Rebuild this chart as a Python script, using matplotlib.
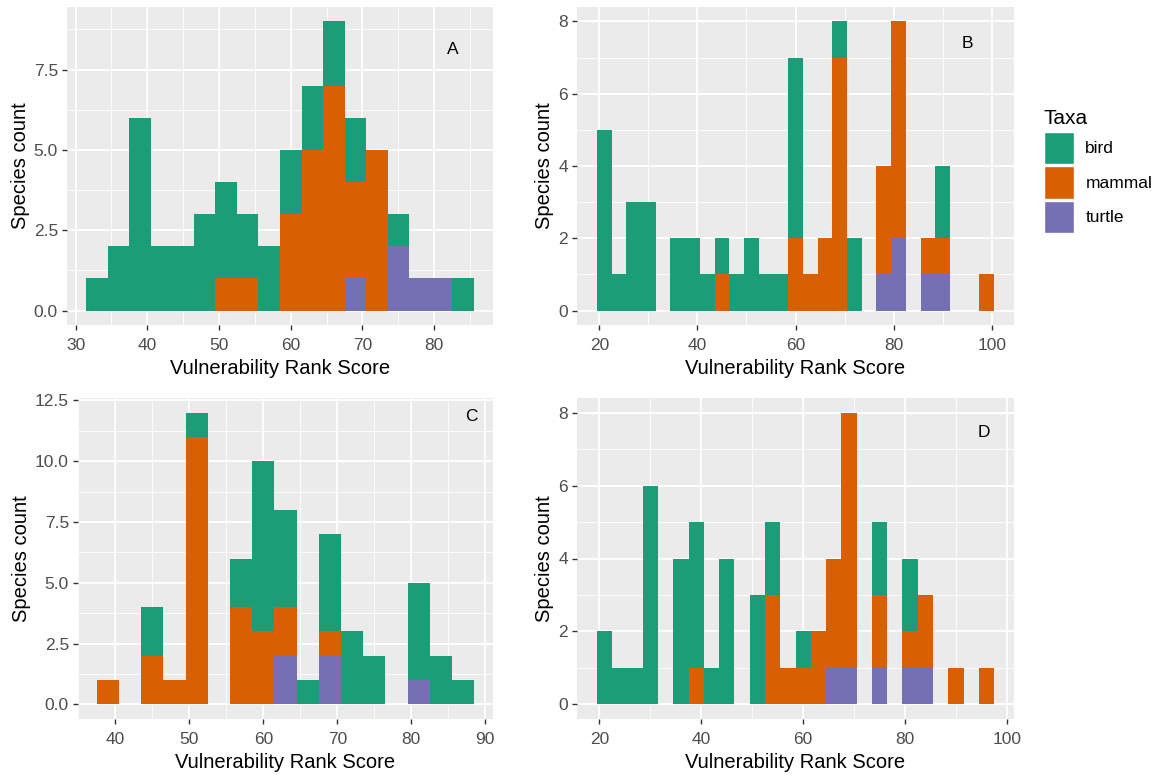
import numpy as np
import matplotlib
matplotlib.use("Agg")
import matplotlib.pyplot as plt
from matplotlib.patches import Patch
from matplotlib.ticker import MultipleLocator, FormatStrFormatter

plt.rcParams['font.family'] = ['Liberation Sans', 'DejaVu Sans']

# taxa and colours (Dark2)
taxa = ['bird', 'mammal', 'turtle']
taxa_colors = {'bird': '#1B9E77', 'mammal': '#D95F02', 'turtle': '#7570B3'}
bin_width = 3

# panel A
a_centers = [33, 36, 39, 42, 45, 48, 51, 54, 57, 60, 63, 66, 69, 72, 75, 78, 81, 84]
a_bird = [1, 2, 6, 2, 2, 3, 3, 2, 2, 2, 2, 2, 2, 0, 1, 0, 0, 1]
a_mammal = [0, 0, 0, 0, 0, 0, 1, 1, 0, 3, 5, 7, 3, 5, 0, 0, 0, 0]
a_turtle = [0, 0, 0, 0, 0, 0, 0, 0, 0, 0, 0, 0, 1, 0, 2, 1, 1, 0]

# panel B
b_centers = [21, 24, 27, 30, 33, 36, 39, 42, 45, 48, 51, 54, 57, 60, 63, 66, 69, 72,
             75, 78, 81, 84, 87, 90, 93, 96, 99]
b_bird = [5, 1, 3, 3, 0, 2, 2, 1, 1, 1, 2, 1, 1, 5, 0, 0, 1, 2, 0, 0, 0, 0, 0, 2, 0, 0, 0]
b_mammal = [0, 0, 0, 0, 0, 0, 0, 0, 1, 0, 0, 0, 0, 2, 1, 2, 7, 0, 0, 3, 6, 0, 1, 1, 0, 0, 1]
b_turtle = [0, 0, 0, 0, 0, 0, 0, 0, 0, 0, 0, 0, 0, 0, 0, 0, 0, 0, 0, 1, 2, 0, 1, 1, 0, 0, 0]

# panel C
c_centers = [39, 42, 45, 48, 51, 54, 57, 60, 63, 66, 69, 72, 75, 78, 81, 84, 87]
c_bird = [0, 0, 2, 0, 1, 0, 2, 7, 4, 1, 4, 3, 2, 0, 4, 2, 1]
c_mammal = [1, 0, 2, 1, 11, 0, 4, 3, 2, 0, 1, 0, 0, 0, 0, 0, 0]
c_turtle = [0, 0, 0, 0, 0, 0, 0, 0, 2, 0, 2, 0, 0, 0, 1, 0, 0]

# panel D
d_centers = [21, 24, 27, 30, 33, 36, 39, 42, 45, 48, 51, 54, 57, 60, 63, 66, 69, 72,
             75, 78, 81, 84, 87, 90, 93, 96]
d_bird = [2, 1, 1, 6, 0, 4, 4, 1, 4, 0, 3, 2, 0, 1, 0, 0, 0, 0, 2, 0, 2, 0, 0, 0, 0, 0]
d_mammal = [0, 0, 0, 0, 0, 0, 1, 0, 0, 0, 0, 3, 1, 1, 2, 3, 7, 0, 2, 0, 1, 2, 0, 1, 0, 1]
d_turtle = [0, 0, 0, 0, 0, 0, 0, 0, 0, 0, 0, 0, 0, 0, 0, 1, 1, 0, 1, 0, 1, 1, 0, 0, 0, 0]

panel_letters = ['A', 'B', 'C', 'D']
x_label = 'Vulnerability Rank Score'
y_label = 'Species count'

W, H = 1162, 775
fig = plt.figure(figsize=(W / 100, H / 100), dpi=100)


def px_axes(left, top, right, bottom):
    return fig.add_axes([left / W, 1 - bottom / H, (right - left) / W, (bottom - top) / H])


panels = [
    # rect, centers, counts, xlim, ylim, xstep, ystep, yfmt, letter pos
    ((67, 7, 493, 325), a_centers, (a_bird, a_mammal, a_turtle), (28.8, 88.2), (-0.45, 9.45), 10, 2.5, '%.1f', (82.6, 8.12)),
    ((577, 7, 1014, 325), b_centers, (b_bird, b_mammal, b_turtle), (15.45, 104.55), (-0.4, 8.4), 20, 2, '%d', (95, 7.38)),
    ((78, 398, 493, 719), c_centers, (c_bird, c_mammal, c_turtle), (34.95, 91.05), (-0.6, 12.6), 10, 2.5, '%.1f', (88.1, 11.85)),
    ((577, 398, 1014, 719), d_centers, (d_bird, d_mammal, d_turtle), (15.6, 101.4), (-0.4, 8.4), 20, 2, '%d', (95.5, 7.45)),
]

for (rect, centers, counts, xlim, ylim, xstep, ystep, yfmt, lpos), letter in zip(panels, panel_letters):
    ax = px_axes(*rect)
    ax.set_facecolor('#EBEBEB')
    bird, mammal, turtle = [np.array(c) for c in counts]
    # ggplot stacks turtle at the bottom, then mammal, bird on top
    bottom = np.zeros(len(centers))
    for name, vals in [('turtle', turtle), ('mammal', mammal), ('bird', bird)]:
        ax.bar(centers, vals, width=bin_width, bottom=bottom, color=taxa_colors[name],
               linewidth=0, zorder=3)
        bottom = bottom + vals
    ax.set_xlim(*xlim)
    ax.set_ylim(*ylim)
    ax.xaxis.set_major_locator(MultipleLocator(xstep))
    ax.xaxis.set_minor_locator(MultipleLocator(xstep / 2))
    ax.yaxis.set_major_locator(MultipleLocator(ystep))
    ax.yaxis.set_minor_locator(MultipleLocator(ystep / 2))
    ax.yaxis.set_major_formatter(FormatStrFormatter(yfmt))
    ax.grid(True, which='major', color='white', linewidth=1.3, zorder=0)
    ax.grid(True, which='minor', color='white', linewidth=0.6, zorder=0)
    ax.set_axisbelow(True)
    for s in ax.spines.values():
        s.set_visible(False)
    ax.tick_params(which='major', length=3.5, width=1, color='#333333',
                   labelsize=12.5, labelcolor='#4D4D4D', pad=3)
    ax.tick_params(axis='x', which='major', pad=6)
    ax.tick_params(which='minor', length=0)
    ax.set_xlabel(x_label, fontsize=14.5, labelpad=4)
    ax.set_ylabel(y_label, fontsize=14.5, labelpad=3)
    ax.text(lpos[0], lpos[1], letter, fontsize=12.5, ha='center', va='center', zorder=5)

handles = [Patch(facecolor=taxa_colors[t], edgecolor='white', linewidth=1) for t in taxa]
leg = fig.legend(handles, taxa, loc='upper left', bbox_to_anchor=(1035 / W, 1 - 100 / H),
                 frameon=False, title='Taxa', title_fontsize=15, fontsize=12.5,
                 handlelength=1.75, handleheight=2.5, labelspacing=0.12,
                 handletextpad=0.65, borderpad=0, alignment='left')
leg._legend_box.sep = 3

fig.savefig('out.png', dpi=100)
